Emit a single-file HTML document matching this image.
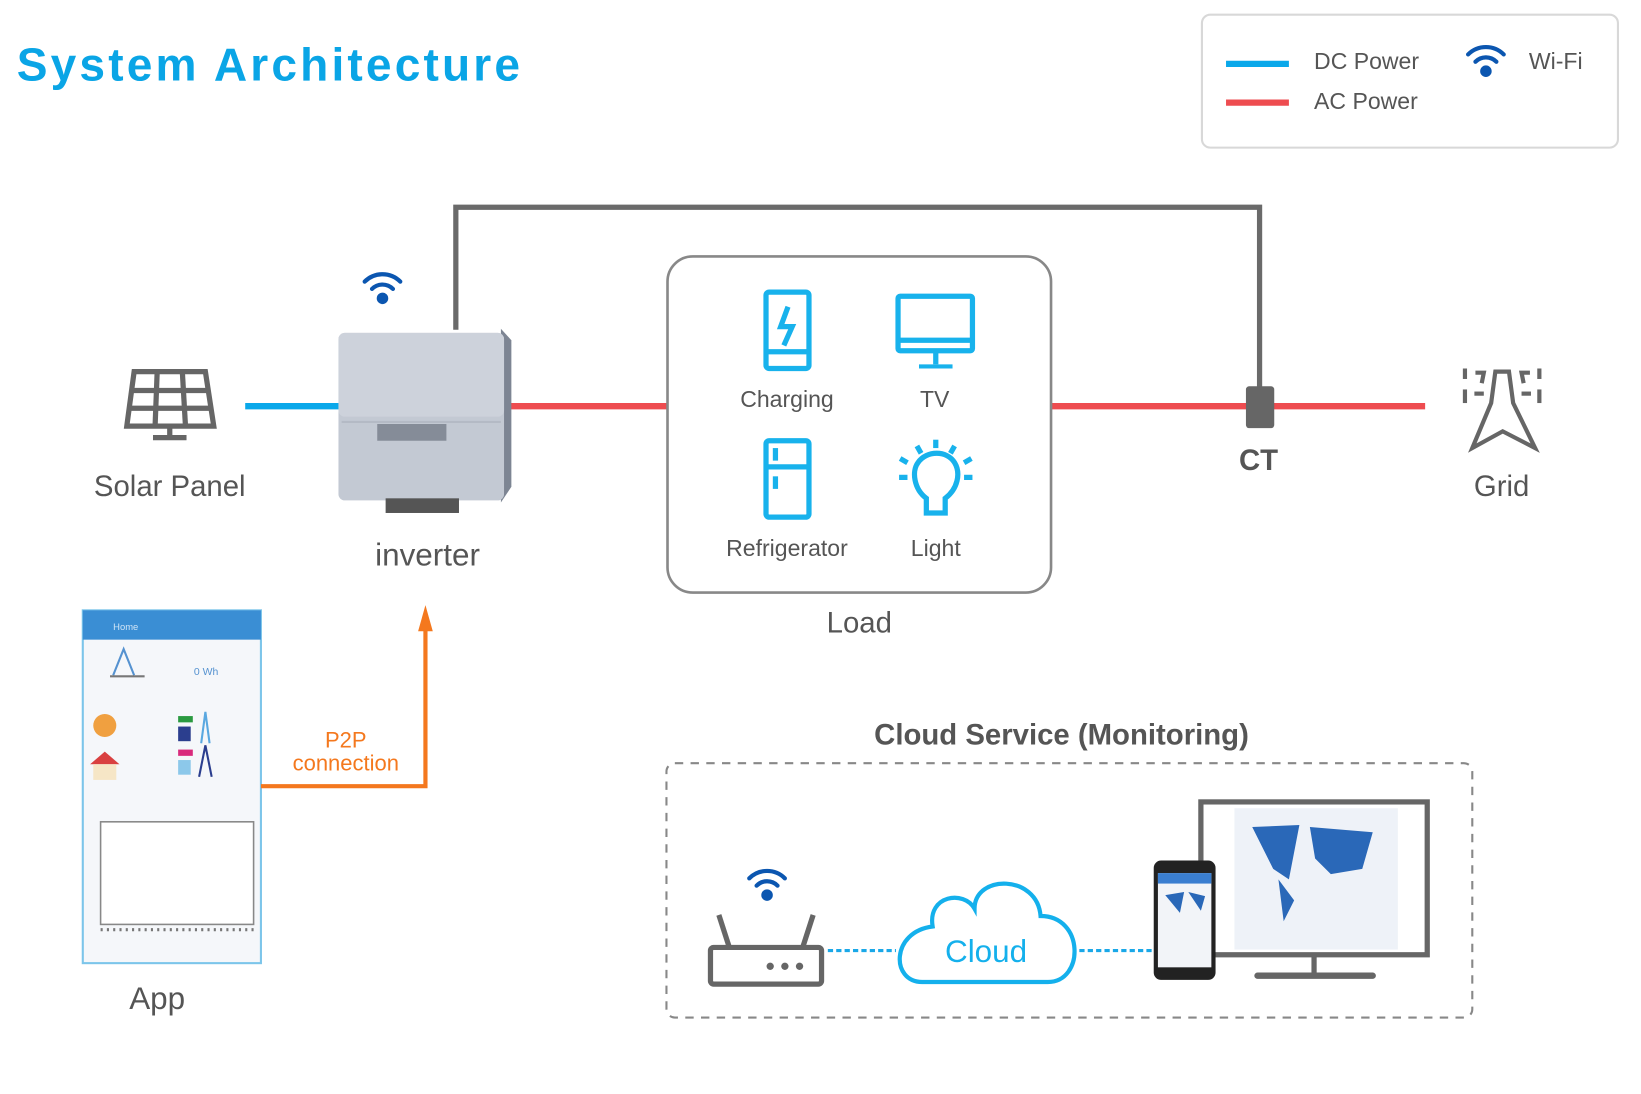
<!DOCTYPE html>
<html><head><meta charset="utf-8"><style>
html,body{margin:0;padding:0;background:#fff;width:1641px;height:1094px;overflow:hidden}
svg{display:block}
text{font-family:"Liberation Sans",sans-serif}
</style></head><body>
<svg width="1641" height="1094" viewBox="0 0 1566 1045" preserveAspectRatio="none" xmlns="http://www.w3.org/2000/svg">
<text x="16" y="77" font-size="44" font-weight="bold" fill="#0aa5e6" letter-spacing="3">System Architecture</text>
<!-- legend -->
<rect x="1147" y="14" width="397" height="127" rx="8" fill="#fff" stroke="#d8d8d8" stroke-width="2"/>
<line x1="1170" y1="61" x2="1230" y2="61" stroke="#0aa8ea" stroke-width="6"/>
<line x1="1170" y1="98" x2="1230" y2="98" stroke="#ee4c50" stroke-width="6"/>
<text x="1254" y="66" font-size="22" fill="#555">DC Power</text>
<text x="1254" y="104" font-size="22" fill="#555">AC Power</text>
<text x="1459" y="66" font-size="22" fill="#555">Wi-Fi</text>
<g id="wifi" transform="translate(1418,58)" fill="none" stroke="#0b56b0" stroke-width="4" stroke-linecap="round">
<path d="M-17,-6 A24,24 0 0 1 17,-6"/><path d="M-10,1 A14,14 0 0 1 10,1"/><circle cx="0" cy="10" r="3.5" fill="#0b56b0"/></g>
<!-- gray wire -->
<polyline points="435,315 435,198 1202,198 1202,372" fill="none" stroke="#6a6a6a" stroke-width="5"/>
<!-- DC and AC lines -->
<line x1="234" y1="388" x2="325" y2="388" stroke="#0aa8ea" stroke-width="6"/>
<line x1="485" y1="388" x2="637" y2="388" stroke="#ee4c50" stroke-width="6"/>
<line x1="1003" y1="388" x2="1360" y2="388" stroke="#ee4c50" stroke-width="6"/>
<rect x="1189" y="369" width="27" height="40" rx="3" fill="#666"/>
<text x="1201" y="449" font-size="28" fill="#555" text-anchor="middle" font-weight="bold">CT</text>
<!-- solar panel -->
<g fill="none" stroke="#666" stroke-width="5">
<path d="M128,355 L196,355 L204,407 L121,407 Z"/>
<line x1="126" y1="373" x2="199" y2="373"/><line x1="124" y1="390" x2="202" y2="390"/>
<line x1="150" y1="355" x2="148" y2="407"/><line x1="174" y1="355" x2="177" y2="407"/>
<line x1="162" y1="407" x2="162" y2="418"/><line x1="146" y1="418" x2="178" y2="418"/></g>
<text x="162" y="474" font-size="28" fill="#555" text-anchor="middle">Solar Panel</text>
<!-- inverter -->
<use href="#wifi" transform="translate(-1053,217)"/>
<path d="M478,314 L488,325 L488,465 L478,480 Z" fill="#7d8593"/>
<rect x="323" y="318" width="158" height="160" rx="6" fill="#c3c9d3"/>
<rect x="323" y="318" width="158" height="80" rx="6" fill="#cdd2db"/>
<line x1="326" y1="403" x2="478" y2="403" stroke="#b4bac5" stroke-width="2"/>
<rect x="360" y="405" width="66" height="16" fill="#858c98"/>
<rect x="368" y="476" width="70" height="14" fill="#555"/>
<text x="408" y="540" font-size="30" fill="#555" text-anchor="middle">inverter</text>
<!-- load box -->
<rect x="637" y="245" width="366" height="321" rx="24" fill="#fff" stroke="#888" stroke-width="2.5"/>
<g fill="none" stroke="#18b2ec" stroke-width="5">
<rect x="731" y="279" width="41" height="73" rx="3"/><line x1="731" y1="336" x2="772" y2="336"/>
<path d="M752,293 L745,312 L756,312 L748,330"/>
<rect x="857" y="283" width="71" height="52" rx="2"/><line x1="857" y1="325" x2="928" y2="325"/>
<line x1="893" y1="335" x2="893" y2="348"/><line x1="877" y1="350" x2="909" y2="350" stroke-width="4"/>
<rect x="731" y="421" width="41" height="73" rx="3"/><line x1="731" y1="446" x2="772" y2="446"/>
<line x1="740" y1="428" x2="740" y2="440"/><line x1="740" y1="455" x2="740" y2="467"/>
<path d="M884,490 L884,476 C872,467 870,450 876,442 C884,430 904,430 911,442 C917,452 914,467 902,476 L902,490 Z"/>
<line x1="893" y1="420" x2="893" y2="428"/><line x1="875" y1="426" x2="879" y2="433"/><line x1="911" y1="426" x2="907" y2="433"/>
<line x1="859" y1="438" x2="866" y2="442"/><line x1="927" y1="438" x2="920" y2="442"/>
<line x1="858" y1="456" x2="866" y2="456"/><line x1="920" y1="456" x2="928" y2="456"/></g>
<g font-size="22" fill="#555" text-anchor="middle">
<text x="751" y="389">Charging</text><text x="892" y="389">TV</text>
<text x="751" y="531">Refrigerator</text><text x="893" y="531">Light</text></g>
<text x="820" y="604" font-size="28" fill="#555" text-anchor="middle">Load</text>
<!-- grid -->
<g fill="none" stroke="#666" stroke-width="4">
<path d="M1405,428 L1423,385 L1427,355 L1440,355 L1444,385 L1465,428 L1434,412 Z"/>
<line x1="1398" y1="352" x2="1398" y2="362"/><line x1="1398" y1="372" x2="1398" y2="385"/>
<line x1="1469" y1="352" x2="1469" y2="362"/><line x1="1469" y1="372" x2="1469" y2="385"/>
<path d="M1408,356 L1416,356 L1414,366"/><path d="M1460,356 L1452,356 L1454,366"/>
<line x1="1407" y1="376" x2="1416" y2="376"/><line x1="1452" y1="376" x2="1461" y2="376"/></g>
<text x="1433" y="474" font-size="28" fill="#555" text-anchor="middle">Grid</text>
<!-- app -->
<rect x="79" y="583" width="170" height="337" fill="#f5f7fa" stroke="#7cc5ea" stroke-width="2"/>
<rect x="79" y="583" width="170" height="28" fill="#3a8ed4"/>
<text x="108" y="602" font-size="9" fill="#cfe4f6">Home</text>
<path d="M108,645 L118,620 L128,645" fill="none" stroke="#5592d0" stroke-width="2"/>
<line x1="105" y1="646" x2="138" y2="646" stroke="#777" stroke-width="2"/>
<text x="185" y="645" font-size="10" fill="#5592d0">0 Wh</text>
<circle cx="100" cy="693" r="11" fill="#f0a040"/>
<path d="M86,730 L100,718 L114,730 Z" fill="#d94040"/><rect x="89" y="730" width="22" height="15" fill="#f6e6c6"/>
<rect x="170" y="684" width="14" height="6" fill="#2a9a40"/><rect x="170" y="694" width="12" height="14" fill="#2b3e8e"/>
<rect x="170" y="716" width="14" height="6" fill="#d92a7c"/><rect x="170" y="726" width="12" height="14" fill="#8cc8ea"/>
<path d="M192,710 L196,680 L200,710" fill="none" stroke="#5aa8e0" stroke-width="2"/>
<path d="M190,742 L196,712 L202,742" fill="none" stroke="#2b3e8e" stroke-width="2"/>
<rect x="96" y="785" width="146" height="98" fill="#fff" stroke="#888" stroke-width="1.5"/>
<line x1="96" y1="888" x2="244" y2="888" stroke="#777" stroke-width="3" stroke-dasharray="2,4"/>
<text x="150" y="964" font-size="30" fill="#555" text-anchor="middle">App</text>
<!-- P2P -->
<polyline points="249,751 406,751 406,595" fill="none" stroke="#f4781e" stroke-width="4"/>
<path d="M399,603 L406,578 L413,603 Z" fill="#f4781e"/>
<text x="330" y="714" font-size="21" fill="#f4781e" text-anchor="middle">P2P</text>
<text x="330" y="736" font-size="21" fill="#f4781e" text-anchor="middle">connection</text>
<!-- cloud service -->
<text x="1013" y="711" font-size="28" fill="#555" text-anchor="middle" font-weight="bold">Cloud Service (Monitoring)</text>
<rect x="636" y="729" width="769" height="243" rx="8" fill="none" stroke="#888" stroke-width="2" stroke-dasharray="8,7"/>
<use href="#wifi" transform="translate(-686,787)"/>
<g fill="none" stroke="#666" stroke-width="5">
<rect x="678" y="905" width="106" height="35" rx="3"/>
<line x1="686" y1="874" x2="696" y2="905"/><line x1="776" y1="874" x2="766" y2="905"/></g>
<circle cx="735" cy="923" r="3.5" fill="#666"/><circle cx="749" cy="923" r="3.5" fill="#666"/><circle cx="763" cy="923" r="3.5" fill="#666"/>
<line x1="790" y1="908" x2="855" y2="908" stroke="#1aa8e8" stroke-width="3" stroke-dasharray="5,3"/>
<line x1="1030" y1="908" x2="1100" y2="908" stroke="#1aa8e8" stroke-width="3" stroke-dasharray="5,3"/>
<path d="M880,938 C850,938 850,890 890,885 C885,855 920,850 930,868 C930,835 990,835 993,875 C1035,875 1035,938 1000,938 Z" fill="#fff" stroke="#14b0ec" stroke-width="4"/>
<text x="941" y="919" font-size="30" fill="#14b0ec" text-anchor="middle">Cloud</text>
<rect x="1146" y="766" width="216" height="146" fill="#fff" stroke="#666" stroke-width="5"/>
<rect x="1178" y="772" width="156" height="135" fill="#eef2f8"/>
<path d="M1195,790 L1240,788 L1230,840 L1215,830 Z M1250,790 L1310,795 L1300,830 L1270,835 L1255,820 Z M1220,840 L1235,860 L1225,880 Z" fill="#2a68b8"/>
<line x1="1254" y1="912" x2="1254" y2="930" stroke="#666" stroke-width="5"/>
<line x1="1200" y1="932" x2="1310" y2="932" stroke="#666" stroke-width="6" stroke-linecap="round"/>
<rect x="1101" y="822" width="59" height="114" rx="7" fill="#222"/>
<rect x="1105" y="834" width="51" height="90" fill="#f2f4f8"/>
<rect x="1105" y="834" width="51" height="10" fill="#3a7ed0"/>
<path d="M1112,855 L1130,852 L1126,872 Z M1134,852 L1150,856 L1146,870 Z" fill="#2a68b8"/>
</svg>
</body></html>
